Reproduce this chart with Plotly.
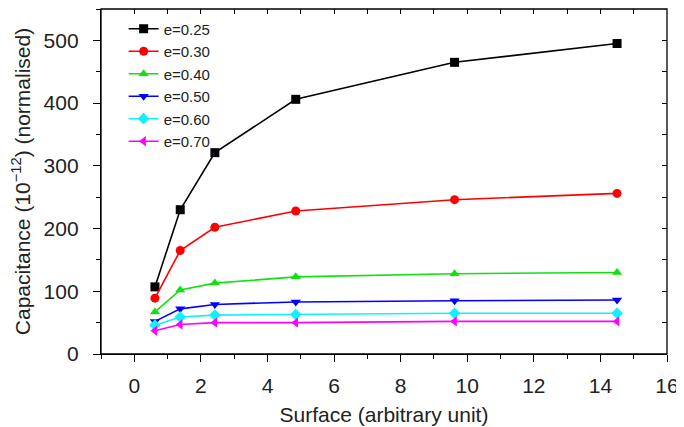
import plotly.graph_objects as go

surface = [0.62, 1.38, 2.42, 4.85, 9.62, 14.5]
labels = ["e=0.25", "e=0.30", "e=0.40", "e=0.50", "e=0.60", "e=0.70"]
cap_025 = [107, 230, 321, 406, 465, 495]
cap_030 = [89, 165, 202, 228, 246, 256]
cap_040 = [67, 102, 113, 123, 128, 130]
cap_050 = [52, 72, 79, 83, 85, 86]
cap_060 = [46, 59, 62, 63, 65, 65]
cap_070 = [37, 47, 50, 50, 52, 52]
series = [cap_025, cap_030, cap_040, cap_050, cap_060, cap_070]
colors = ["#000000", "#ff0000", "#11e011", "#0000ff", "#11f0ff", "#ff00ff"]
symbols = ["square", "circle", "triangle-up", "triangle-down", "diamond", "triangle-left"]

x_range = [-1, 16]
y_range = [0, 550]

fig = go.Figure()
for lab, ys, c, s in zip(labels, series, colors, symbols):
    fig.add_trace(go.Scatter(x=surface, y=ys, name=lab, mode="lines+markers",
                             line=dict(color=c, width=1.6),
                             marker=dict(symbol=s, size=9, color=c)))

# transparent traces that anchor the top/right axes carrying inward ticks
fig.add_trace(go.Scatter(x=surface, y=cap_025, xaxis="x2", yaxis="y", mode="lines",
                         line=dict(color="rgba(0,0,0,0)"), showlegend=False, hoverinfo="skip"))
fig.add_trace(go.Scatter(x=surface, y=cap_025, xaxis="x", yaxis="y2", mode="lines",
                         line=dict(color="rgba(0,0,0,0)"), showlegend=False, hoverinfo="skip"))

tick_font = dict(size=21, color="#222")
title_font = dict(size=21, color="#222")

# plot frame
fig.add_shape(type="rect", xref="paper", yref="paper", x0=0, x1=1, y0=0, y1=1,
              line=dict(color="black", width=1.3), fillcolor="rgba(0,0,0,0)", layer="above")

# the page body adds an 8px offset, so the figure is sized to fit the 684x427 window
fig.update_layout(
    width=676, height=419,
    margin=dict(l=93, r=17, t=1, b=73),
    plot_bgcolor="white", paper_bgcolor="white",
    font=dict(family="Liberation Sans, Arial", size=15, color="#222"),
    xaxis=dict(range=x_range, dtick=2, showline=True, linecolor="black", linewidth=1.3,
               ticks="outside", ticklen=7, tickcolor="black", tickwidth=1.3, showgrid=False,
               zeroline=False, tickfont=tick_font, automargin=False, ticklabelstandoff=6,
               minor=dict(dtick=1, ticks="outside", ticklen=4, tickcolor="black", tickwidth=1.2),
               title=dict(text="Surface (arbitrary unit)", font=title_font, standoff=10)),
    yaxis=dict(range=y_range, dtick=100, showline=True, linecolor="black", linewidth=1.3,
               ticks="outside", ticklen=7, tickcolor="black", tickwidth=1.3, showgrid=False,
               zeroline=False, tickfont=tick_font, automargin=False, ticklabelstandoff=10,
               minor=dict(dtick=50, ticks="outside", ticklen=4, tickcolor="black", tickwidth=1.2),
               title=dict(text="Capacitance (10<sup>−12</sup>) (normalised)", font=title_font, standoff=14)),
    xaxis2=dict(range=x_range, tickmode="linear", tick0=0, dtick=1, overlaying="x", side="top",
                anchor="y", showline=False, ticks="inside", ticklen=5, tickcolor="black",
                tickwidth=1.3, showticklabels=False, showgrid=False, zeroline=False,
                layer="above traces"),
    yaxis2=dict(range=y_range, tickmode="linear", tick0=0, dtick=50, overlaying="y", side="right",
                anchor="x", showline=False, ticks="inside", ticklen=5, tickcolor="black",
                tickwidth=1.3, showticklabels=False, showgrid=False, zeroline=False,
                layer="above traces"),
    legend=dict(x=0.04, y=0.99, xanchor="left", yanchor="top", bgcolor="rgba(0,0,0,0)",
                font=dict(size=15, color="#222"), tracegroupgap=0, itemwidth=30),
)

fig.write_html("out.html")
